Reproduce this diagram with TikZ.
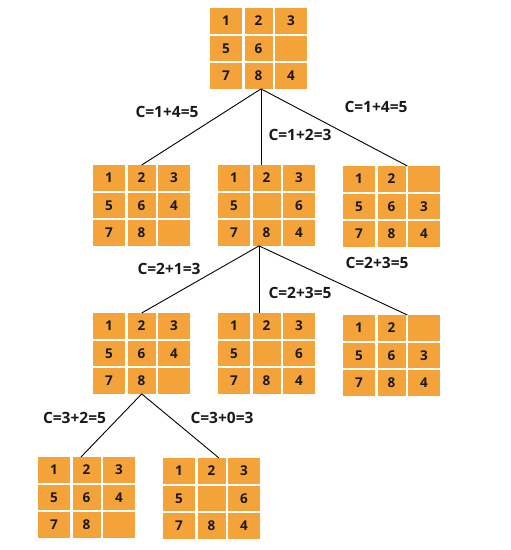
\documentclass[tikz,border=0pt]{standalone}
\usepackage{fontspec}
\setmainfont{Open Sans}
\usetikzlibrary{calc}
\definecolor{tileorange}{HTML}{F4A33B}
\tikzset{
  gridbox/.style={draw=none, inner sep=0pt, minimum width=97pt, minimum height=80.5pt},
  cell/.style={fill=tileorange, draw=none, inner sep=0pt, minimum height=25.5pt,
    font=\fontsize{13.5}{15}\selectfont\bfseries, text=black!90},
  edge/.style={draw=black, line width=0.9pt},
  cost/.style={font=\fontsize{15.5}{17}\selectfont\bfseries, text=black!90, inner sep=0pt}
}
\newcommand\puzzle[3]{%
  \node[gridbox, anchor=north west] (#1) at (#2) {};
  \foreach \v [count=\i from 0] in {#3} {
    \pgfmathtruncatemacro\rr{int(\i/3)}
    \pgfmathtruncatemacro\cc{mod(\i,3)}
    \pgfmathsetmacro\cx{{16,48.5,81}[\cc]}
    \pgfmathsetmacro\cw{{32,28,32}[\cc]}
    \pgfmathsetmacro\cy{12.75+27.5*\rr}
    \node[cell, minimum width=\cw pt] (#1-\i) at ($(#1.north west)+(\cx,\cy)$) {\v};
  }%
}
\begin{document}
\begin{tikzpicture}[x=1pt,y=-1pt]
\useasboundingbox[fill=white] (0,0) rectangle (511,550);
% grids
\puzzle{top}{210,8}{1,2,3,5,6,{},7,8,4}
\puzzle{a}{93,165}{1,2,3,5,6,4,7,8,{}}
\puzzle{b}{218,165}{1,2,3,5,{},6,7,8,4}
\puzzle{c}{343,166}{1,2,{},5,6,3,7,8,4}
\puzzle{d}{93,313}{1,2,3,5,6,4,7,8,{}}
\puzzle{e}{218,313}{1,2,3,5,{},6,7,8,4}
\puzzle{f}{343,315}{1,2,{},5,6,3,7,8,4}
\puzzle{g}{38,457}{1,2,3,5,6,4,7,8,{}}
\puzzle{h}{163,458}{1,2,3,5,{},6,7,8,4}
% connectors level 1
\coordinate (topout) at ($(top.south west)+(51,0)$);
\draw[edge] (topout) -- (a.north);
\draw[edge] (topout) -- (topout |- b.north);
\draw[edge] (topout) -- ($(c.north east)+(-33,0)$);
% level 2
\coordinate (bout) at ($(b.south west)+(41,0)$);
\draw[edge] (bout) -- (d.north);
\draw[edge] (bout) -- (bout |- e.north);
\draw[edge] (bout) -- ($(f.north east)+(-33,0)$);
% level 3
\draw[edge] (d.south) -- ($(g.north west)+(43,0)$);
\draw[edge] (d.south) -- ($(h.north west)+(56,0)$);
% costs
\node[cost] (c1) at (167,112) {C=1+4=5};
\node[cost] (c2) at (300,135) {C=1+2=3};
\node[cost] (c3) at (376,107) {C=1+4=5};
\node[cost] (c4) at (169,269) {C=2+1=3};
\node[cost] (c5) at (300,293) {C=2+3=5};
\node[cost] (c6) at (377,263) {C=2+3=5};
\node[cost] (c7) at (74.5,418) {C=3+2=5};
\node[cost] (c8) at (222,418) {C=3+0=3};
\end{tikzpicture}
\end{document}
